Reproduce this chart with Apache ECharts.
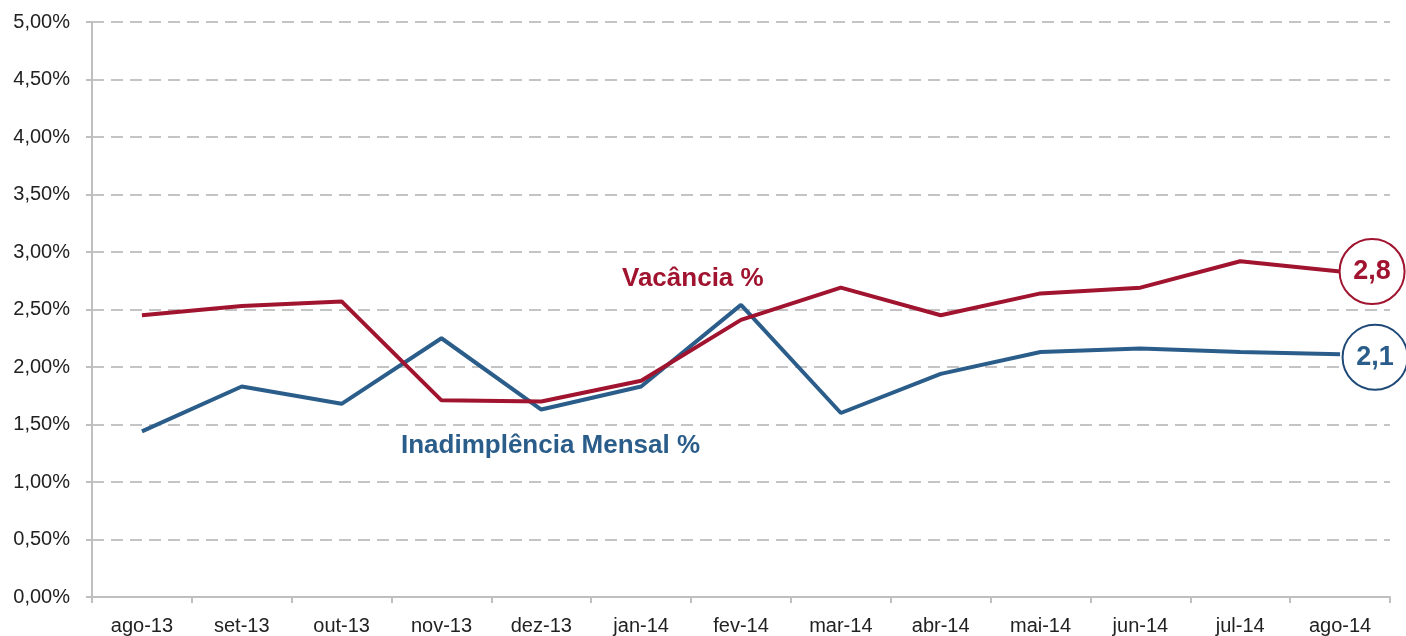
<!DOCTYPE html>
<html>
<head>
<meta charset="utf-8">
<script src="https://cdn.jsdelivr.net/npm/echarts@6/dist/echarts.min.js"></script>
<style>
html,body{margin:0;padding:0;background:#fff;}
#chart{width:1406px;height:636px;}
</style>
</head>
<body>
<div id="chart"></div>
<script>
const categories = ['ago-13','set-13','out-13','nov-13','dez-13','jan-14','fev-14','mar-14','abr-14','mai-14','jun-14','jul-14','ago-14'];
const vacancia = [2.45, 2.53, 2.57, 1.71, 1.70, 1.88, 2.41, 2.69, 2.45, 2.64, 2.69, 2.92, 2.83];
const inadimplencia = [1.44, 1.83, 1.68, 2.25, 1.63, 1.83, 2.54, 1.60, 1.94, 2.13, 2.16, 2.13, 2.11];
const endLabels = ['2,8', '2,1'];
const seriesNames = ['Vacância %', 'Inadimplência Mensal %'];

const RED = '#a0142f';
const BLUE = '#2b5d8a';
const BLUE_DARK = '#1f4a78';
const FONT = '"Liberation Sans", Arial, Helvetica, sans-serif';

const chart = echarts.init(document.getElementById('chart'));
const last = categories.length - 1;

function endMark(values, label, color, border, offset) {
  return {
    symbol: 'circle',
    symbolSize: 65,
    symbolOffset: offset,
    silent: true,
    animation: false,
    data: [{ coord: [categories[last], values[last]] }],
    itemStyle: { color: '#fff', borderColor: border, borderWidth: 2 },
    label: {
      show: true, formatter: label, position: 'inside',
      color: color, fontSize: 27, fontWeight: 'bold', fontFamily: FONT
    }
  };
}

chart.setOption({
  animation: false,
  grid: { left: 92, right: 16, top: 22, bottom: 39 },
  xAxis: {
    type: 'category',
    data: categories,
    boundaryGap: true,
    axisLine: { lineStyle: { color: '#bfbfbf', width: 2 } },
    axisTick: { show: true, length: 6, lineStyle: { color: '#bfbfbf', width: 2 } },
    axisLabel: { color: '#222', fontSize: 20, fontFamily: FONT, margin: 19 },
    splitLine: { show: false }
  },
  yAxis: {
    type: 'value',
    min: 0, max: 5, interval: 0.5,
    axisLine: { show: true, lineStyle: { color: '#bfbfbf', width: 2 } },
    axisTick: { show: true, length: 6, lineStyle: { color: '#bfbfbf', width: 2 } },
    axisLabel: {
      color: '#222', fontSize: 20, fontFamily: FONT, margin: 22,
      formatter: v => v.toFixed(2).replace('.', ',') + '%'
    },
    splitLine: { show: true, lineStyle: { color: '#c4c4c4', width: 2, type: [12, 7] } }
  },
  series: [
    {
      name: seriesNames[0], type: 'line', data: vacancia,
      symbol: 'none', lineStyle: { color: RED, width: 4 }, itemStyle: { color: RED }, z: 3,
      markPoint: endMark(vacancia, endLabels[0], RED, RED, [32, 0])
    },
    {
      name: seriesNames[1], type: 'line', data: inadimplencia,
      symbol: 'none', lineStyle: { color: BLUE, width: 4 }, itemStyle: { color: BLUE }, z: 2,
      markPoint: endMark(inadimplencia, endLabels[1], BLUE, BLUE_DARK, [35, 3])
    }
  ],
  graphic: [
    { type: 'text', left: 622, top: 266, style: { text: seriesNames[0], fill: RED, font: 'bold 26px ' + FONT } },
    { type: 'text', left: 401, top: 433, style: { text: seriesNames[1], fill: BLUE, font: 'bold 26px ' + FONT } }
  ]
});
</script>
</body>
</html>
